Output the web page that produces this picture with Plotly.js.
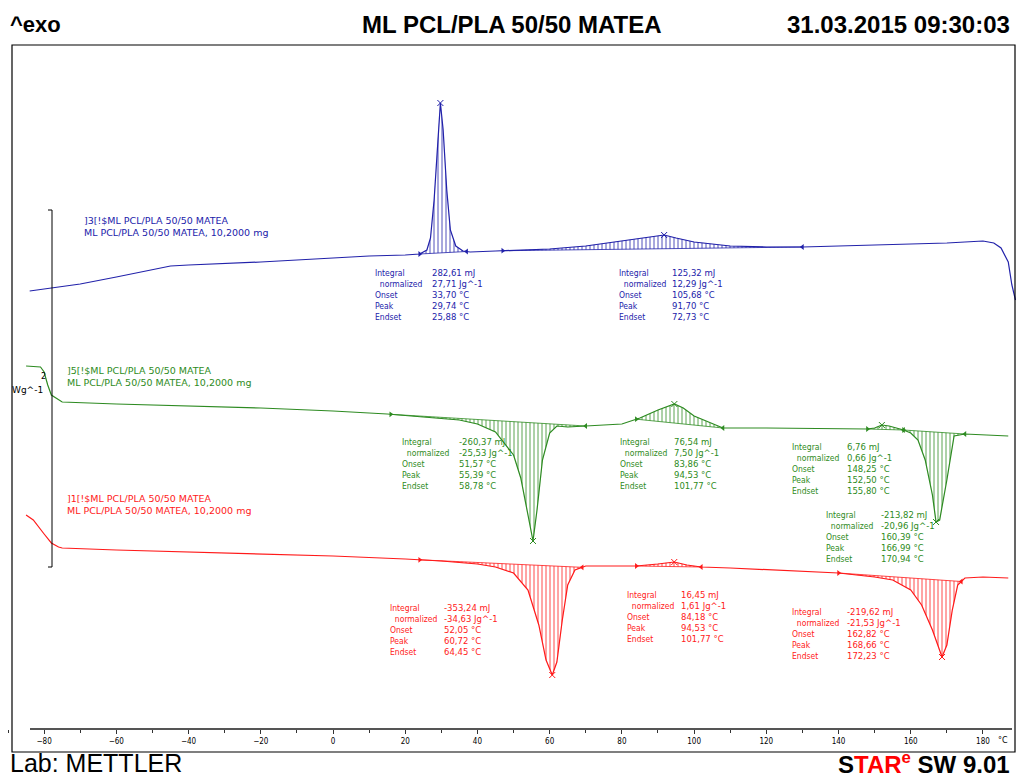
<!DOCTYPE html>
<html><head><meta charset="utf-8">
<script src="https://cdn.plot.ly/plotly-3.0.1.min.js"></script>
<style>body{margin:0;background:#fff}#chart{width:1017px;height:777px}</style>
</head><body><div id="chart"></div>
<script>
// curves: temperature (°C) and signal (screen units, larger = lower)
const blueT = [-84,-80,-70,-60,-50,-45,-40,-20,0,10,20,24,26,27,28,29,29.74,30.5,31.5,32.5,34,36,38,45,60,70,80,85,90,91.7,95,100,110,120,130,150,170,180,183,185,187,188,189];
const blueY = [291,289,284,277,270,266,265,262,258,256,255,254,250,238,200,140,103,130,190,230,246,251,252,251,249,246,241,238,236,235,238,242,246,247,247,245,243,241,243,248,262,285,300];
const greenT = [-85,-81,-80,-79,-78,-76,-75,-60,-40,-20,0,15,25,35,40,45,50,52,54,55.39,56.5,58,60,62,65,70,80,85,90,94.53,97,100,105,108,120,140,148,150,152,154,156,158,160,162,164,166,167,168,170,172,175,180,187];
const greenY = [366,367,372,385,395,400,402,404,406,408,411,414,417,420,424,432,455,478,515,541,510,460,433,426,427,426,424,418,410,404,408,416,424,428,428,429,429,428,425,426,428,430,433,440,460,495,522,520,480,436,434,435,436];
const redT = [-85,-83,-80,-78,-76,-75,-60,-40,-20,0,20,30,40,45,50,54,57,59,60.72,62,63.5,65,67,70,80,84,90,94.5,98,102,110,130,140,150,155,160,163,166,168.66,170,171.5,173,175,180,187];
const redY = [515,520,534,543,547,548,550,552,554,556,559,561,564,567,573,590,625,660,675,662,620,585,570,566,566,566,564,562,565,567,568,571,573,577,580,590,605,630,657,645,610,585,578,577,578];

// integration limits [start, end]
const blueLimits = [[24,37],[47,130]];
const greenLimits = [[16,70],[84,108],[148,158],[158,175]];
const redLimits = [[24,69],[84,102],[140,174]];

// result tables
const blueResults = [
  ['282,61 mJ','27,71 Jg^-1','33,70 °C','29,74 °C','25,88 °C'],
  ['125,32 mJ','12,29 Jg^-1','105,68 °C','91,70 °C','72,73 °C']];
const greenResults = [
  ['-260,37 mJ','-25,53 Jg^-1','51,57 °C','55,39 °C','58,78 °C'],
  ['76,54 mJ','7,50 Jg^-1','83,86 °C','94,53 °C','101,77 °C'],
  ['6,76 mJ','0,66 Jg^-1','148,25 °C','152,50 °C','155,80 °C'],
  ['-213,82 mJ','-20,96 Jg^-1','160,39 °C','166,99 °C','170,94 °C']];
const redResults = [
  ['-353,24 mJ','-34,63 Jg^-1','52,05 °C','60,72 °C','64,45 °C'],
  ['16,45 mJ','1,61 Jg^-1','84,18 °C','94,53 °C','101,77 °C'],
  ['-219,62 mJ','-21,53 Jg^-1','162,82 °C','168,66 °C','172,23 °C']];
// table anchor positions in pixels [x label, x value, y]
const bluePos = [[373,430,266],[617,670,266]];
const greenPos = [[400,457,435],[618,672,435],[790,845,440],[824,879,508]];
const redPos = [[388,442,601],[625,679,588],[790,845,605]];

const xTicks = [-80,-60,-40,-20,0,20,40,60,80,100,120,140,160,180];

const W = 1017, H = 777;
const px2T = p => (p - 333) / 3.611;

function interp(T, Y, t) {
  for (let i = 1; i < T.length; i++) {
    if (t <= T[i]) {
      const f = (t - T[i-1]) / (T[i] - T[i-1]);
      return Y[i-1] + f * (Y[i] - Y[i-1]);
    }
  }
  return Y[Y.length-1];
}

const traces = [];
const annotations = [];

function addSeries(T, Y, color, limits, results, pos) {
  traces.push({x: T, y: Y, mode: 'lines', line: {color: color, width: 1.2}, hoverinfo: 'skip'});
  limits.forEach(([a, b]) => {
    const ya = interp(T, Y, a), yb = interp(T, Y, b);
    traces.push({x: [a, b], y: [ya, yb], mode: 'lines+markers', line: {color: color, width: 0.8},
      marker: {symbol: ['triangle-right','triangle-left'], size: 5, color: color}, hoverinfo: 'skip'});
    const sx = [a], sy = [ya];
    T.forEach((t, i) => { if (t > a && t < b) { sx.push(t); sy.push(Y[i]); } });
    sx.push(b); sy.push(yb);
    traces.push({x: sx, y: sy, mode: 'lines', line: {color: color, width: 0.1}, fill: 'tonexty',
      fillcolor: 'rgba(255,255,255,0)',
      fillpattern: {shape: '|', fgcolor: color, bgcolor: 'rgba(255,255,255,0)', size: 4, solidity: 0.2},
      hoverinfo: 'skip'});
    // peak marker
    let k = 0, best = -1;
    sx.forEach((t, i) => {
      const d = Math.abs(sy[i] - interp([a, b], [ya, yb], t));
      if (d > best) { best = d; k = i; }
    });
    traces.push({x: [sx[k]], y: [sy[k]], mode: 'markers', marker: {symbol: 'x-thin-open', size: 6, color: color, line: {color: color, width: 1}}, hoverinfo: 'skip'});
  });
  results.forEach((r, i) => {
    const [lx, vx, y] = pos[i];
    annotations.push({xref: 'x', yref: 'y', x: px2T(lx), y: y, xanchor: 'left', yanchor: 'top', align: 'left', showarrow: false,
      text: 'Integral<br>&nbsp;&nbsp;normalized<br>Onset<br>Peak<br>Endset', font: {size: 8.5, color: color, family: 'DejaVu Sans Condensed'}});
    annotations.push({xref: 'x', yref: 'y', x: px2T(vx), y: y, xanchor: 'left', yanchor: 'top', align: 'left', showarrow: false,
      text: r.join('<br>'), font: {size: 8.5, color: color, family: 'DejaVu Sans'}});
  });
}

addSeries(blueT, blueY, '#2222aa', blueLimits, blueResults, bluePos);
addSeries(greenT, greenY, '#2e8b22', greenLimits, greenResults, greenPos);
addSeries(redT, redY, '#ff1a1a', redLimits, redResults, redPos);

function label(px, py, text, color, size, anchor, family) {
  annotations.push({xref: 'paper', yref: 'paper', x: px / W, y: 1 - py / H, xanchor: anchor || 'left', yanchor: 'middle',
    showarrow: false, align: 'left', text: text, font: {size: size, color: color, family: family || 'Liberation Sans'}});
}
label(82, 227, ']3[!$ML PCL/PLA 50/50 MATEA<br>ML PCL/PLA 50/50 MATEA, 10,2000 mg', '#2222aa', 9.5, 'left', 'DejaVu Sans');
label(65, 376, ']5[!$ML PCL/PLA 50/50 MATEA<br>ML PCL/PLA 50/50 MATEA, 10,2000 mg', '#2e8b22', 9.5, 'left', 'DejaVu Sans');
label(65, 505, ']1[!$ML PCL/PLA 50/50 MATEA<br>ML PCL/PLA 50/50 MATEA, 10,2000 mg', '#ff1a1a', 9.5, 'left', 'DejaVu Sans');
label(10, 390, 'Wg^-1', '#000', 9, 'left', 'DejaVu Sans');
label(43, 376, '2', '#000', 8, 'center', 'DejaVu Sans');
label(8, 25, '<b>^exo</b>', '#000', 22);
label(512, 25, '<b>ML PCL/PLA 50/50 MATEA</b>', '#000', 24, 'center');
label(1012, 25, '<b>31.03.2015 09:30:03</b>', '#000', 24, 'right');
label(8, 763, 'Lab: METTLER', '#000', 25);
label(1012, 763, '<b><span style="color:#000">S</span><span style="color:#ff0000">TAR<sup>e</sup></span><span style="color:#000"> SW 9.01</span></b>', '#000', 24, 'right');
label(1003, 740, '°C', '#000', 8, 'center', 'DejaVu Sans');

const shapes = [
  {type: 'rect', xref: 'paper', yref: 'paper', x0: 12 / W, x1: 1015 / W, y0: 1 - 752 / H, y1: 1 - 45 / H, line: {color: '#000', width: 1.2}},
  {type: 'line', xref: 'paper', yref: 'paper', x0: 30 / W, x1: 1012 / W, y0: 1 - 729 / H, y1: 1 - 729 / H, line: {color: '#555', width: 2}},
  {type: 'line', xref: 'paper', yref: 'paper', x0: 52 / W, x1: 52 / W, y0: 1 - 210 / H, y1: 1 - 567 / H, line: {color: '#000', width: 1}},
  {type: 'line', xref: 'paper', yref: 'paper', x0: 48 / W, x1: 52 / W, y0: 1 - 210 / H, y1: 1 - 210 / H, line: {color: '#000', width: 1}},
  {type: 'line', xref: 'paper', yref: 'paper', x0: 48 / W, x1: 52 / W, y0: 1 - 567 / H, y1: 1 - 567 / H, line: {color: '#000', width: 1}}
];

const layout = {
  width: W, height: H,
  margin: {l: 0, r: 0, t: 0, b: 0},
  paper_bgcolor: '#fff', plot_bgcolor: 'rgba(0,0,0,0)',
  showlegend: false,
  xaxis: {range: [px2T(0), px2T(W)], showgrid: false, zeroline: false, showline: false,
    anchor: 'free', position: 1 - 729 / H, tickvals: xTicks, ticks: 'outside', ticklen: 4, tickcolor: '#333',
    tickfont: {size: 8, family: 'DejaVu Sans Condensed', color: '#000'},
    minor: {dtick: 10, ticks: 'outside', ticklen: 3, tickcolor: '#333'}},
  yaxis: {range: [H, 0], visible: false, showgrid: false, zeroline: false},
  shapes: shapes,
  annotations: annotations
};

Plotly.newPlot('chart', traces, layout, {displayModeBar: false, staticPlot: true});
</script>
</body></html>
